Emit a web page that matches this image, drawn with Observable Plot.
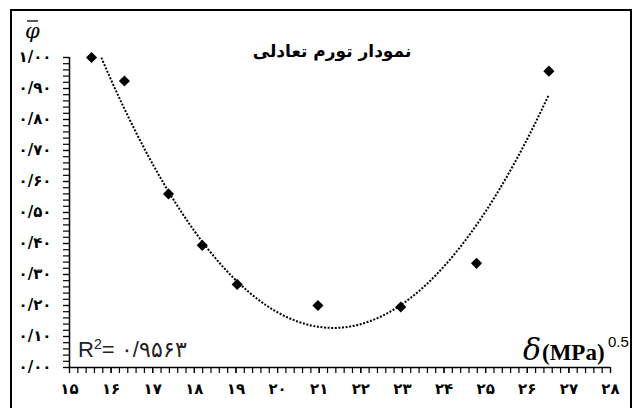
<!DOCTYPE html>
<html>
<head>
<meta charset="utf-8">
<script src="https://cdn.jsdelivr.net/npm/d3@7"></script>
<script src="https://cdn.jsdelivr.net/npm/@observablehq/plot@0.6"></script>
<style>
  html, body { margin: 0; padding: 0; background: #fff; }
  #chart svg { display: block; }
</style>
</head>
<body>
<div id="chart"></div>
<script>
// Swelling measurements: solubility parameter δ vs. equilibrium swelling φ̄
const delta = [15.53, 16.32, 17.38, 18.19, 19.03, 20.97, 22.96, 24.78, 26.52];
const phi   = [1.00, 0.924, 0.560, 0.394, 0.268, 0.200, 0.195, 0.336, 0.956];

const xTicks = d3.range(15, 29);
const yTicks = d3.range(0, 11).map(i => i / 10);
const titleText = "نمودار تورم تعادلی";
const r2Value = "۰/۹۵۶۳";

const points = delta.map((d, i) => ({x: d, y: phi[i]}));

// Persian digits with "/" as decimal separator
const fa = s => String(s).replace(/\d/g, d => "۰۱۲۳۴۵۶۷۸۹"[d]).replace(".", "/");

// Second-order polynomial trendline (least squares)
function quadFit(xs, ys) {
  const m = d3.mean(xs);
  const u = xs.map(x => x - m);
  const S = k => d3.sum(u, v => v ** k);
  const T = k => d3.sum(u, (v, i) => v ** k * ys[i]);
  const A = [[S(4), S(3), S(2)], [S(3), S(2), S(1)], [S(2), S(1), u.length]];
  const b = [T(2), T(1), T(0)];
  for (let i = 0; i < 3; i++) {
    for (let j = i + 1; j < 3; j++) {
      const f = A[j][i] / A[i][i];
      for (let k = i; k < 3; k++) A[j][k] -= f * A[i][k];
      b[j] -= f * b[i];
    }
  }
  const c = [0, 0, 0];
  for (let i = 2; i >= 0; i--) {
    let s = b[i];
    for (let k = i + 1; k < 3; k++) s -= A[i][k] * c[k];
    c[i] = s / A[i][i];
  }
  return x => c[0] * (x - m) ** 2 + c[1] * (x - m) + c[2];
}
const fit = quadFit(delta, phi);
const [x0, x1] = d3.extent(delta);
const curve = d3.range(0, 201).map(i => {
  const x = x0 + (x1 - x0) * i / 200;
  return {x, y: fit(x)};
});

const font = "'DejaVu Sans', sans-serif";

const chart = Plot.plot({
  width: 635,
  height: 408,
  marginLeft: 69,
  marginRight: 25,
  marginTop: 57,
  marginBottom: 41,
  x: {domain: [15, 28]},
  y: {domain: [0, 1]},
  style: {fontFamily: font, background: "#fff", color: "#000"},
  marks: [
    // minor ticks
    Plot.axisX({ticks: d3.range(15, 28.0001, 0.2), tickSize: 6, tickFormat: () => "", label: null, strokeWidth: 1.2}),
    Plot.axisY({ticks: d3.range(0, 1.0001, 0.02), tickSize: 6, tickFormat: () => "", label: null, strokeWidth: 1.2}),
    // major ticks with Persian labels
    Plot.axisX({ticks: xTicks, tickSize: 6, tickPadding: 10, tickFormat: d => fa(d), label: null,
      fontSize: 15, fontWeight: "bold", strokeWidth: 1.2}),
    Plot.axisY({ticks: yTicks, tickSize: 6, tickPadding: 12, tickFormat: d => fa(d.toFixed(2)), label: null,
      fontSize: 15, fontWeight: "bold", strokeWidth: 1.2}),
    Plot.ruleX([15], {strokeWidth: 1.5}),
    Plot.ruleY([0], {strokeWidth: 1.5}),
    // trendline
    Plot.line(curve, {x: "x", y: "y", stroke: "#000", strokeWidth: 2, strokeDasharray: "2,1.6",
      strokeLinecap: "butt", clip: true}),
    // measurements
    Plot.dot(points, {x: "x", y: "y", symbol: "diamond2", r: 5, fill: "#000", stroke: "none"}),
    // title
    Plot.text([titleText], {frameAnchor: "top", dx: -8, dy: -13, fontSize: 17, fontWeight: "bold", fill: "#000"})
  ]
});

const svg = d3.select(chart);
// coefficient of determination
const r2 = svg.append("text").attr("x", 78).attr("y", 357).attr("text-anchor", "start")
  .attr("font-family", "'Liberation Sans', sans-serif").attr("font-size", 22).attr("fill", "#222");
r2.append("tspan").text("R");
r2.append("tspan").attr("font-size", 14).attr("dy", -8).text("2");
r2.append("tspan").attr("dy", 8).text("= " + r2Value);
// axis label for δ
svg.append("text").attr("x", 523).attr("y", 360).attr("text-anchor", "start")
  .attr("font-family", "'DejaVu Serif', serif").attr("font-style", "italic").attr("font-size", 30).text("δ");
svg.append("text").attr("x", 542).attr("y", 360).attr("text-anchor", "start")
  .attr("font-family", "'Liberation Serif', serif").attr("font-weight", "bold").attr("font-size", 23).text("(MPa)");
svg.append("text").attr("x", 608).attr("y", 347).attr("text-anchor", "start")
  .attr("font-family", "'Liberation Sans', sans-serif").attr("font-size", 15).text("0.5");
// axis label for φ̄
svg.append("text").attr("x", 25).attr("y", 38).attr("text-anchor", "start").attr("font-family", "'DejaVu Serif', serif")
  .attr("font-style", "italic").attr("font-size", 21).attr("fill", "#000").text("φ");
svg.append("line").attr("x1", 27).attr("x2", 38).attr("y1", 21).attr("y2", 21).attr("stroke", "#000").attr("stroke-width", 1.3);
// outer frame
svg.append("path").attr("d", "M11,408V10H631V408").attr("fill", "none").attr("stroke", "#000").attr("stroke-width", 2);

document.getElementById("chart").appendChild(chart);
</script>
</body>
</html>
